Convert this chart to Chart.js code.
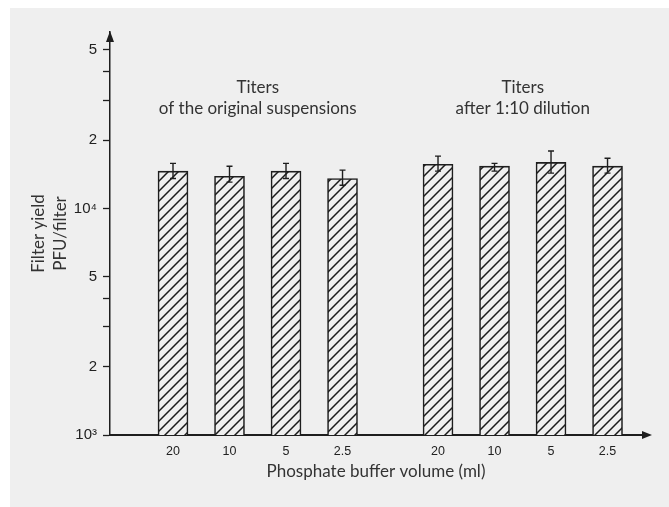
<!DOCTYPE html>
<html>
<head>
<meta charset="utf-8">
<script src="https://cdn.jsdelivr.net/npm/chart.js@4/dist/chart.umd.min.js"></script>
<style>
  html, body { margin: 0; padding: 0; background: #fff; }
</style>
</head>
<body>
<canvas id="grafico" width="669" height="507"></canvas>
<script>
// datos
const groupTitles = [["Titers", "of the original suspensions"], ["Titers", "after 1:10 dilution"]];
const volumes = ["20", "10", "5", "2.5"];
const yieldOriginal = [14600, 13850, 14600, 13550];
const yieldDiluted = [15650, 15350, 15950, 15350];
const errLowOriginal = [13550, 13050, 13550, 12650];
const errHighOriginal = [15800, 15350, 15800, 14750];
const errLowDiluted = [14600, 14600, 14300, 14300];
const errHighDiluted = [17000, 15800, 17900, 16650];
const yTicks = [1000, 2000, 3000, 4000, 5000, 10000, 20000, 30000, 40000, 50000];
const yTickLabels = ["10³", "2", "", "", "5", "10⁴", "2", "", "", "5"];
const xTitle = "Phosphate buffer volume (ml)";
const yTitle = ["Filter yield", "PFU/filter"];

const fondo = "#efefef";
const tinta = "#1e1e1e";
const fuenteTexto = "Lato, 'Liberation Sans', sans-serif";
const fuenteNum = "'Liberation Sans', Arial, sans-serif";
const gapGrupos = 0.69;

const valores = [yieldOriginal, yieldDiluted];
const bajos = [errLowOriginal, errLowDiluted];
const altos = [errHighOriginal, errHighDiluted];

let puntos = [];
let errores = [];
valores.forEach((serie, g) => {
    serie.forEach((v, i) => {
        const x = 1 + i + g * (volumes.length + gapGrupos);
        puntos.push({ x: x, y: v });
        errores.push({ x: x, lo: bajos[g][i], hi: altos[g][i] });
    });
});
const etiquetasX = valores.flatMap(() => volumes);

function crearTrama() {
    const c = document.createElement("canvas");
    const p = 10;
    c.width = p;
    c.height = p;
    const t = c.getContext("2d");
    t.fillStyle = fondo;
    t.fillRect(0, 0, p, p);
    t.strokeStyle = "#1a1a1a";
    t.lineWidth = 1.5;
    t.beginPath();
    t.moveTo(-1, p + 1); t.lineTo(p + 1, -1);
    t.moveTo(-2, 2); t.lineTo(2, -2);
    t.moveTo(p - 2, p + 2); t.lineTo(p + 2, p - 2);
    t.stroke();
    return t.createPattern(c, "repeat");
}

const pluginFondo = {
    id: "fondo",
    beforeDraw(chart) {
        const ctx = chart.ctx;
        ctx.save();
        ctx.fillStyle = "#fff";
        ctx.fillRect(0, 0, chart.width, chart.height);
        ctx.fillStyle = fondo;
        ctx.fillRect(10, 8, chart.width - 10, chart.height - 8);
        ctx.restore();
    }
};

const pluginExtras = {
    id: "extras",
    afterDatasetsDraw(chart) {
        const ctx = chart.ctx;
        const xs = chart.scales.x, ys = chart.scales.y;
        ctx.save();
        ctx.strokeStyle = tinta;
        ctx.lineWidth = 1.4;
        errores.forEach((e) => {
            const px = xs.getPixelForValue(e.x);
            const y1 = ys.getPixelForValue(e.hi);
            const y2 = ys.getPixelForValue(e.lo);
            ctx.beginPath();
            ctx.moveTo(px, y1); ctx.lineTo(px, y2);
            ctx.moveTo(px - 3, y1); ctx.lineTo(px + 3, y1);
            ctx.moveTo(px - 3, y2); ctx.lineTo(px + 3, y2);
            ctx.stroke();
        });
        ctx.restore();
    },
    afterDraw(chart) {
        const ctx = chart.ctx;
        const area = chart.chartArea;
        const xs = chart.scales.x;
        ctx.save();
        ctx.fillStyle = tinta;
        // flechas de los ejes
        ctx.beginPath();
        ctx.moveTo(area.left, area.top - 1);
        ctx.lineTo(area.left - 4, area.top + 10);
        ctx.lineTo(area.left + 4, area.top + 10);
        ctx.closePath();
        ctx.fill();
        ctx.beginPath();
        ctx.moveTo(area.right + 10, area.bottom);
        ctx.lineTo(area.right, area.bottom - 4);
        ctx.lineTo(area.right, area.bottom + 4);
        ctx.closePath();
        ctx.fill();
        ctx.fillRect(area.right - 2, area.bottom - 1, 3, 2);
        // titulos de grupo
        ctx.fillStyle = "#333";
        ctx.font = "17px " + fuenteTexto;
        ctx.textAlign = "center";
        ctx.textBaseline = "middle";
        groupTitles.forEach((lineas, g) => {
            const n = volumes.length;
            const a = xs.getPixelForValue(puntos[g * n].x);
            const b = xs.getPixelForValue(puntos[g * n + n - 1].x);
            ctx.fillText(lineas[0], (a + b) / 2, 88);
            ctx.fillText(lineas[1], (a + b) / 2, 109);
        });
        ctx.restore();
    }
};

new Chart(document.getElementById("grafico"), {
    type: "bar",
    data: {
        datasets: [{
            data: puntos,
            backgroundColor: crearTrama(),
            borderColor: tinta,
            borderWidth: 1.6,
            borderSkipped: "start",
            barThickness: 30
        }]
    },
    options: {
        responsive: false,
        animation: false,
        devicePixelRatio: 1,
        layout: { padding: { left: 0, top: 32, right: 27, bottom: 0 } },
        plugins: {
            legend: { display: false },
            tooltip: { enabled: false }
        },
        scales: {
            x: {
                type: "linear",
                min: -0.115,
                max: 9.3,
                offset: false,
                afterFit: (s) => { s.height = 72; },
                afterBuildTicks: (s) => { s.ticks = puntos.map((p) => ({ value: p.x })); },
                grid: { display: false, drawTicks: false },
                border: { display: true, color: tinta, width: 2 },
                ticks: {
                    autoSkip: false,
                    maxRotation: 0,
                    padding: 9,
                    color: "#222",
                    font: { family: fuenteNum, size: 12.5 },
                    callback: (v, i) => etiquetasX[i]
                },
                title: {
                    display: true,
                    text: xTitle,
                    color: "#333",
                    font: { family: fuenteTexto, size: 17 },
                    padding: { top: 0, bottom: 25 }
                }
            },
            y: {
                type: "logarithmic",
                min: 1000,
                max: 60000,
                afterFit: (s) => { s.width = 110; },
                afterBuildTicks: (s) => { s.ticks = yTicks.map((v) => ({ value: v })); },
                grid: {
                    drawOnChartArea: false,
                    drawTicks: true,
                    tickLength: 7,
                    tickColor: tinta,
                    tickWidth: 1.3
                },
                border: { display: true, color: tinta, width: 1.5 },
                ticks: {
                    autoSkip: false,
                    padding: 6,
                    color: "#222",
                    font: { family: fuenteNum, size: 15 },
                    callback: (v, i) => yTickLabels[i]
                },
                title: {
                    display: true,
                    text: yTitle,
                    color: "#333",
                    font: { family: fuenteTexto, size: 17, lineHeight: "22px" },
                    padding: { top: 28, bottom: 0 }
                }
            }
        }
    },
    plugins: [pluginFondo, pluginExtras]
});
</script>
</body>
</html>
